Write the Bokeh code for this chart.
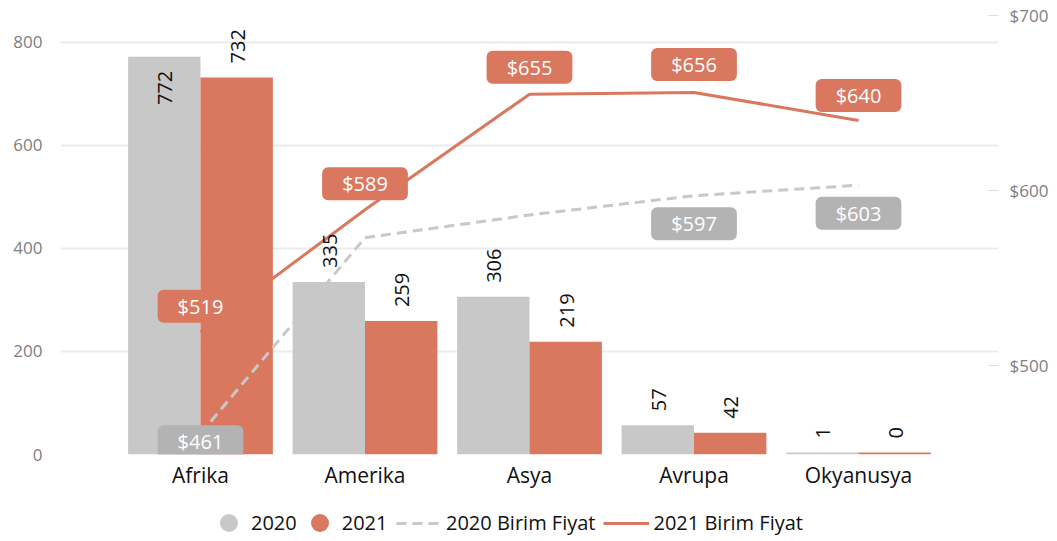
import math
from bokeh.plotting import figure
from bokeh.layouts import column
from bokeh.models import (ColumnDataSource, Range1d, LinearAxis, FixedTicker,
                          PrintfTickFormatter, Legend, LegendItem)
from bokeh.core.properties import value
from bokeh.embed import file_html
from bokeh.resources import INLINE

# ---------------- data ----------------
regions = ["Afrika", "Amerika", "Asya", "Avrupa", "Okyanusya"]
qty_2020 = [772, 335, 306, 57, 1]
qty_2021 = [732, 259, 219, 42, 0]
price_2020 = [461, 573, 586, 597, 603]
price_2021 = [519, 589, 655, 656, 640]
left_ticks = [0, 200, 400, 600, 800]
right_ticks = [500, 600, 700]
series_names = ["2020", "2021", "2020 Birim Fiyat", "2021 Birim Fiyat"]
# which unit-price labels are visible in the original (others hidden by overlap)
show_price_2020 = [True, False, False, True, True]
show_price_2021 = [True, True, True, True, True]

# ---------------- style ----------------
GRAY = "#C8C8C8"
GRAY_BOX = "#B3B3B3"
RED = "#D9775F"
FONT = value("Open Sans")
AXIS_GRAY = "#808080"
DASH = "10 6"

Y_MAX = 858
P_MIN, P_MAX = 449.1, 701.7
BAR_W = 0.44
MIN_VIS = 4  # minimum visible bar height (tiny values still drawn as a sliver)

p = figure(width=1057, height=496, output_backend="svg", toolbar_location=None,
           x_range=Range1d(-0.851, 4.851), y_range=Range1d(0, Y_MAX),
           min_border_left=60, min_border_right=59, min_border_top=12,
           min_border_bottom=42)
p.extra_y_ranges = {"price": Range1d(P_MIN, P_MAX)}
p.outline_line_color = None
p.background_fill_color = "white"

idx = list(range(len(regions)))
x20 = [i - BAR_W / 2 for i in idx]
x21 = [i + BAR_W / 2 for i in idx]

src = ColumnDataSource(dict(
    x20=x20, x21=x21,
    top20=[max(v, MIN_VIS) for v in qty_2020],
    top21=[max(v, MIN_VIS) for v in qty_2021],
))
p.vbar(x="x20", top="top20", width=BAR_W, source=src, color=GRAY, line_color=None)
p.vbar(x="x21", top="top21", width=BAR_W, source=src, color=RED, line_color=None)

# unit price lines
p.line(idx, price_2020, y_range_name="price", line_color=GRAY, line_width=3,
       line_dash=DASH)
p.line(idx, price_2021, y_range_name="price", line_color=RED, line_width=3)

# bar value labels (rotated)
px_per_unit = 442 / Y_MAX
out_x, out_y, out_t, in_x, in_y, in_t = [], [], [], [], [], []
for xs, vals in ((x20, qty_2020), (x21, qty_2021)):
    for xv, v in zip(xs, vals):
        if (Y_MAX - v) * px_per_unit < 50:
            in_x.append(xv); in_y.append(v); in_t.append(str(v))
        else:
            out_x.append(xv); out_y.append(max(v, MIN_VIS)); out_t.append(str(v))

p.text(x=out_x, y=out_y, text=out_t, angle=math.pi / 2, text_align="left",
       text_baseline="middle", y_offset=-14, x_offset=1, text_font=FONT,
       text_font_size="20px", text_color="#111111")
p.text(x=in_x, y=in_y, text=in_t, angle=math.pi / 2, text_align="right",
       text_baseline="middle", y_offset=14, x_offset=1, text_font=FONT,
       text_font_size="20px", text_color="#111111")

# unit price labels (boxes)
def price_labels(prices, shows, color, offsets):
    xs, ys, ts, offs = [], [], [], []
    for i, (pr, s) in enumerate(zip(prices, shows)):
        if s:
            xs.append(i); ys.append(pr); ts.append(f"${pr}"); offs.append(offsets[i])
    p.text(x=xs, y=ys, text=ts, y_offset=offs, y_range_name="price",
           text_align="center", text_baseline="middle", text_font=FONT,
           text_font_size="20px", text_color="white",
           background_fill_color=color, border_radius=6,
           padding=dict(left=20, right=20, top=3, bottom=3))

price_labels(price_2021, show_price_2021, RED, [-26, -26, -27, -28, -25])
price_labels(price_2020, show_price_2020, GRAY_BOX, [8, 28, 28, 28, 28])

# axes
p.xaxis.ticker = FixedTicker(ticks=idx)
p.xaxis.major_label_overrides = {i: r for i, r in enumerate(regions)}
p.xaxis.axis_line_color = None
p.xaxis.major_tick_line_color = None
p.xaxis.minor_tick_line_color = None
p.xaxis.major_label_text_font = "Open Sans"
p.xaxis.major_label_text_font_size = "21px"
p.xaxis.major_label_text_color = "#111111"
p.xaxis.major_label_standoff = 0
p.xgrid.visible = False

p.yaxis.ticker = FixedTicker(ticks=left_ticks)
p.yaxis.axis_line_color = None
p.yaxis.major_tick_line_color = None
p.yaxis.minor_tick_line_color = None
p.yaxis.major_label_text_font = "Open Sans"
p.yaxis.major_label_text_font_size = "17px"
p.yaxis.major_label_text_color = AXIS_GRAY
p.yaxis.major_label_standoff = 12
p.ygrid.ticker = FixedTicker(ticks=left_ticks)
p.ygrid.grid_line_color = "#EBEBEB"
p.ygrid.grid_line_width = 2

ra = LinearAxis(y_range_name="price", ticker=FixedTicker(ticks=right_ticks),
                formatter=PrintfTickFormatter(format="$%d"))
ra.axis_line_color = None
ra.major_tick_in = 10
ra.major_tick_out = 0
ra.major_tick_line_color = "#DDDDDD"
ra.minor_tick_line_color = None
ra.major_label_text_font = "Open Sans"
ra.major_label_text_font_size = "17px"
ra.major_label_text_color = AXIS_GRAY
ra.major_label_standoff = 11
p.add_layout(ra, "right")

# ---------------- legend strip (separate small figure) ----------------
lg = figure(width=1057, height=44, output_backend="svg", toolbar_location=None,
            x_axis_type=None, y_axis_type=None, min_border=0,
            x_range=Range1d(0, 1), y_range=Range1d(0, 1))
lg.outline_line_color = None
lg.xgrid.visible = False
lg.ygrid.visible = False
# off-range proxies, drawn only as legend swatches
r20 = lg.scatter([-10], [-10], marker="circle", size=18, color=GRAY, line_color=None)
r21 = lg.scatter([-10], [-10], marker="circle", size=18, color=RED, line_color=None)
rl20 = lg.line([-10, -9], [-10, -10], line_color=GRAY, line_width=3, line_dash=DASH)
rl21 = lg.line([-10, -9], [-10, -10], line_color=RED, line_width=3)


def style_legend(leg, gw, gh, standoff, spacing):
    leg.orientation = "horizontal"
    leg.padding = 0
    leg.margin = 0
    leg.spacing = spacing
    leg.label_standoff = standoff
    leg.glyph_width = gw
    leg.glyph_height = gh
    leg.label_height = 20
    leg.label_text_font = "Open Sans"
    leg.label_text_font_size = "20px"
    leg.label_text_color = "#111111"
    leg.border_line_alpha = 0
    leg.background_fill_alpha = 0


legA = Legend(items=[LegendItem(label=series_names[0], renderers=[r20]),
                     LegendItem(label=series_names[1], renderers=[r21])],
              location=(146, -5))
legB = Legend(items=[LegendItem(label=series_names[2], renderers=[rl20]),
                     LegendItem(label=series_names[3], renderers=[rl21])],
              location=(336, 4))
style_legend(legA, 45, 45, 0, 0)
style_legend(legB, 46, 20, 4, 8)
lg.add_layout(legA, "center")
lg.add_layout(legB, "center")

layout = column(p, lg, spacing=0)
open("out.html", "w").write(file_html(layout, INLINE))
